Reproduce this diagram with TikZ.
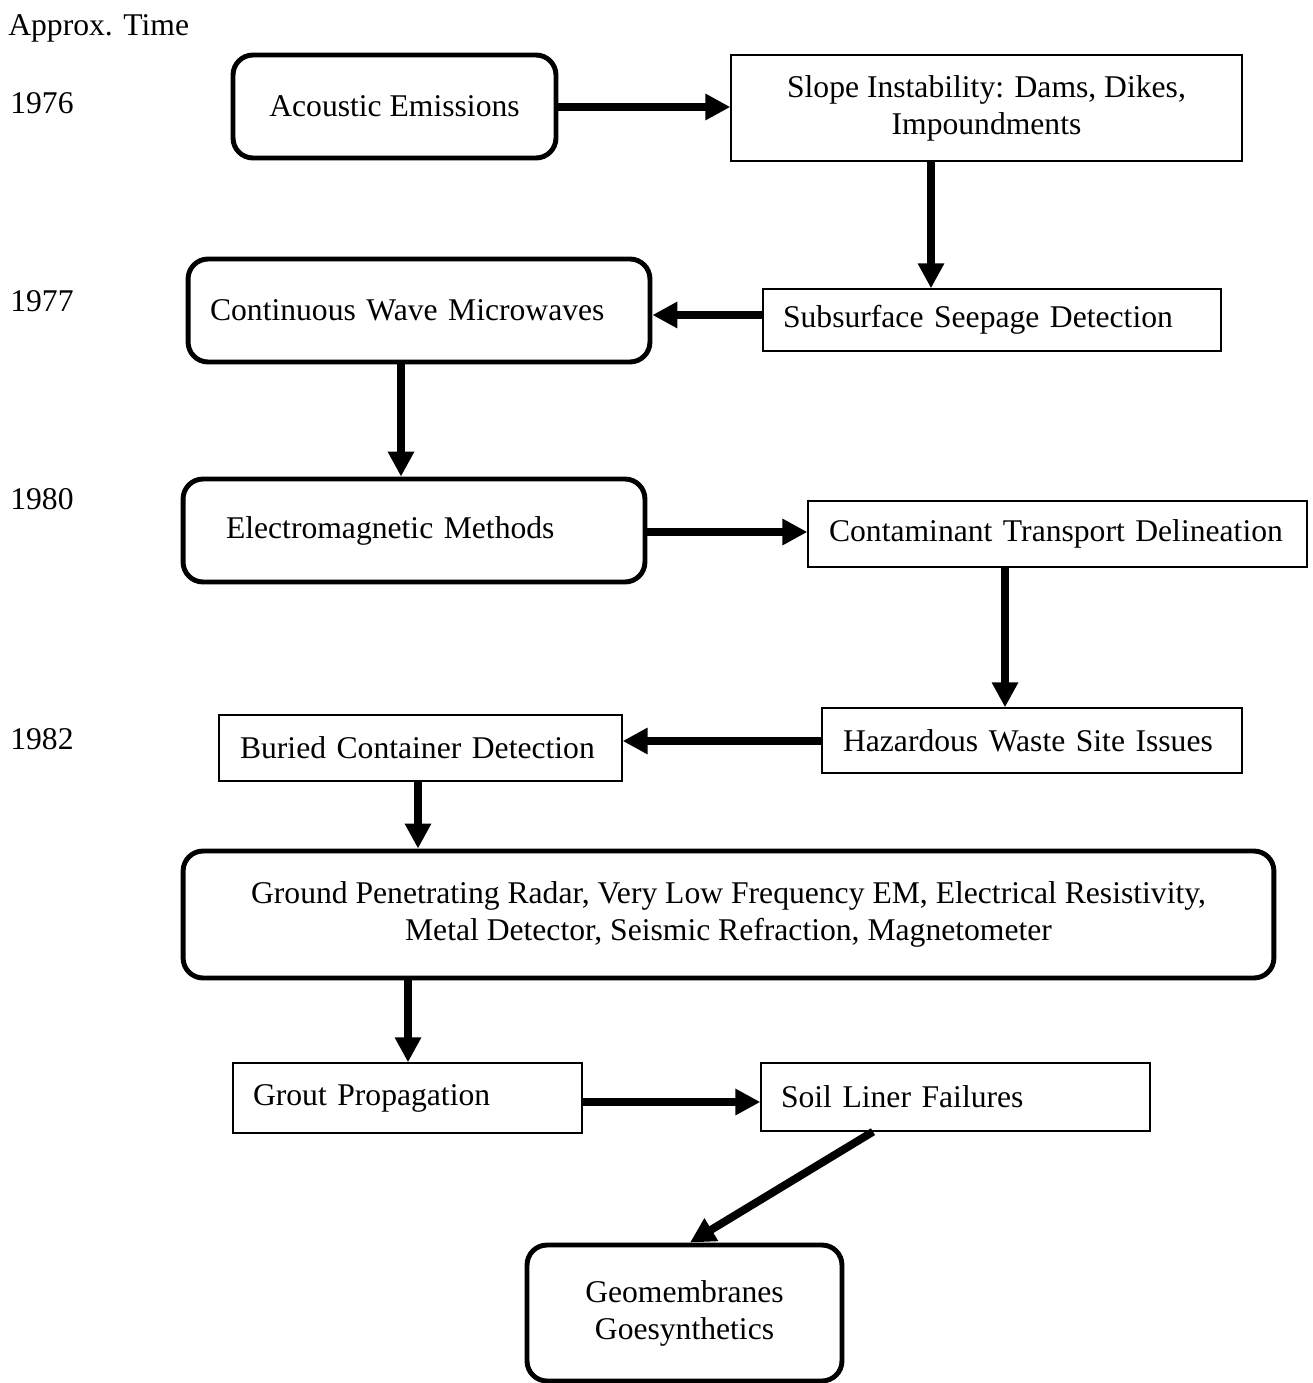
\documentclass[tikz,border=0pt]{standalone}
\usepackage{fontspec}
\setmainfont{Liberation Serif}
\usetikzlibrary{arrows.meta}
\tikzset{
  rbox/.style={draw,line width=2.8pt,rounded corners=0.4cm,align=center},
  sbox/.style={draw,line width=0.8pt},
  lbox/.style={sbox,align=left,inner ysep=0pt},
  arr/.style={line width=4.5pt,-{Triangle[length=0.5cm,width=0.5cm]}},
}
\begin{document}
\begin{tikzpicture}[x=0.02cm,y=-0.02cm,font=\fontsize{18}{21}\selectfont]
      \useasboundingbox (0,0) rectangle (1312,1383);

      % time column
      \node[anchor=base west,inner sep=0pt] (time) at (8,35) {Approx. Time};
      \node[anchor=base west,inner sep=0pt] (y1976) at (10,113) {1976};
      \node[anchor=base west,inner sep=0pt] (y1977) at (10,311) {1977};
      \node[anchor=base west,inner sep=0pt] (y1980) at (10,509) {1980};
      \node[anchor=base west,inner sep=0pt] (y1982) at (10,749) {1982};

      % boxes
      \node[rbox,minimum width=6.46cm,minimum height=2.06cm] (acoustic) at (394.5,106.5) {Acoustic Emissions};
      \node[sbox,align=center,minimum width=10.22cm,minimum height=2.12cm] (slope) at (986.5,108) {Slope Instability: Dams, Dikes,\\Impoundments};
      \node[lbox,text width=8.36cm,inner xsep=0.4cm,minimum height=1.24cm] (seep) at (992,320) {Subsurface Seepage Detection};
      \node[rbox,align=left,text width=8.36cm,inner xsep=0.44cm,minimum height=2.06cm] (cwm) at (419,310.5) {Continuous Wave Microwaves};
      \node[rbox,align=left,text width=7.52cm,inner xsep=0.86cm,minimum height=2.06cm] (em) at (414,530.5) {Electromagnetic Methods\\[0.2cm]};
      \node[lbox,text width=9.14cm,inner xsep=0.42cm,minimum height=1.32cm] (cont) at (1057.5,534) {Contaminant Transport Delineation};
      \node[lbox,text width=7.56cm,inner xsep=0.42cm,minimum height=1.3cm] (haz) at (1032,740.5) {Hazardous Waste Site Issues};
      \node[lbox,text width=7.22cm,inner xsep=0.42cm,minimum height=1.32cm] (buried) at (420.5,748) {Buried Container Detection};
      \node[rbox,minimum width=21.82cm,minimum height=2.54cm] (gpr) at (728.5,914.5) {Ground Penetrating Radar, Very Low Frequency EM, Electrical Resistivity,\\Metal Detector, Seismic Refraction, Magnetometer};
      \node[lbox,text width=6.18cm,inner xsep=0.4cm,minimum height=1.4cm] (grout) at (407.5,1098) {Grout Propagation\\[0.1cm]};
      \node[lbox,text width=6.98cm,inner xsep=0.4cm,minimum height=1.36cm] (soil) at (955.5,1097) {Soil Liner Failures};
      \node[rbox,minimum width=6.3cm,minimum height=2.72cm] (geo) at (684.5,1313) {Geomembranes\\Goesynthetics};

      % arrows
      \draw[arr] (acoustic.east |- 0,107) -- (slope.west |- 0,107);
      \draw[arr] (931,0 |- slope.south) -- (931,0 |- seep.north);
      \draw[arr] (seep.west |- 0,315) -- (cwm.east |- 0,315);
      \draw[arr] (401,0 |- cwm.south) -- (401,0 |- em.north);
      \draw[arr] (em.east |- 0,532) -- (cont.west |- 0,532);
      \draw[arr] (1005,0 |- cont.south) -- (1005,0 |- haz.north);
      \draw[arr] (haz.west |- 0,741) -- (buried.east |- 0,741);
      \draw[arr] (418,0 |- buried.south) -- (418,0 |- gpr.north);
      \draw[arr] (408,0 |- gpr.south) -- (408,0 |- grout.north);
      \draw[arr] (grout.east |- 0,1102) -- (soil.west |- 0,1102);
      \draw[arr] (873,0 |- soil.south) -- (690,0 |- geo.north);
    \end{tikzpicture}
\end{document}
